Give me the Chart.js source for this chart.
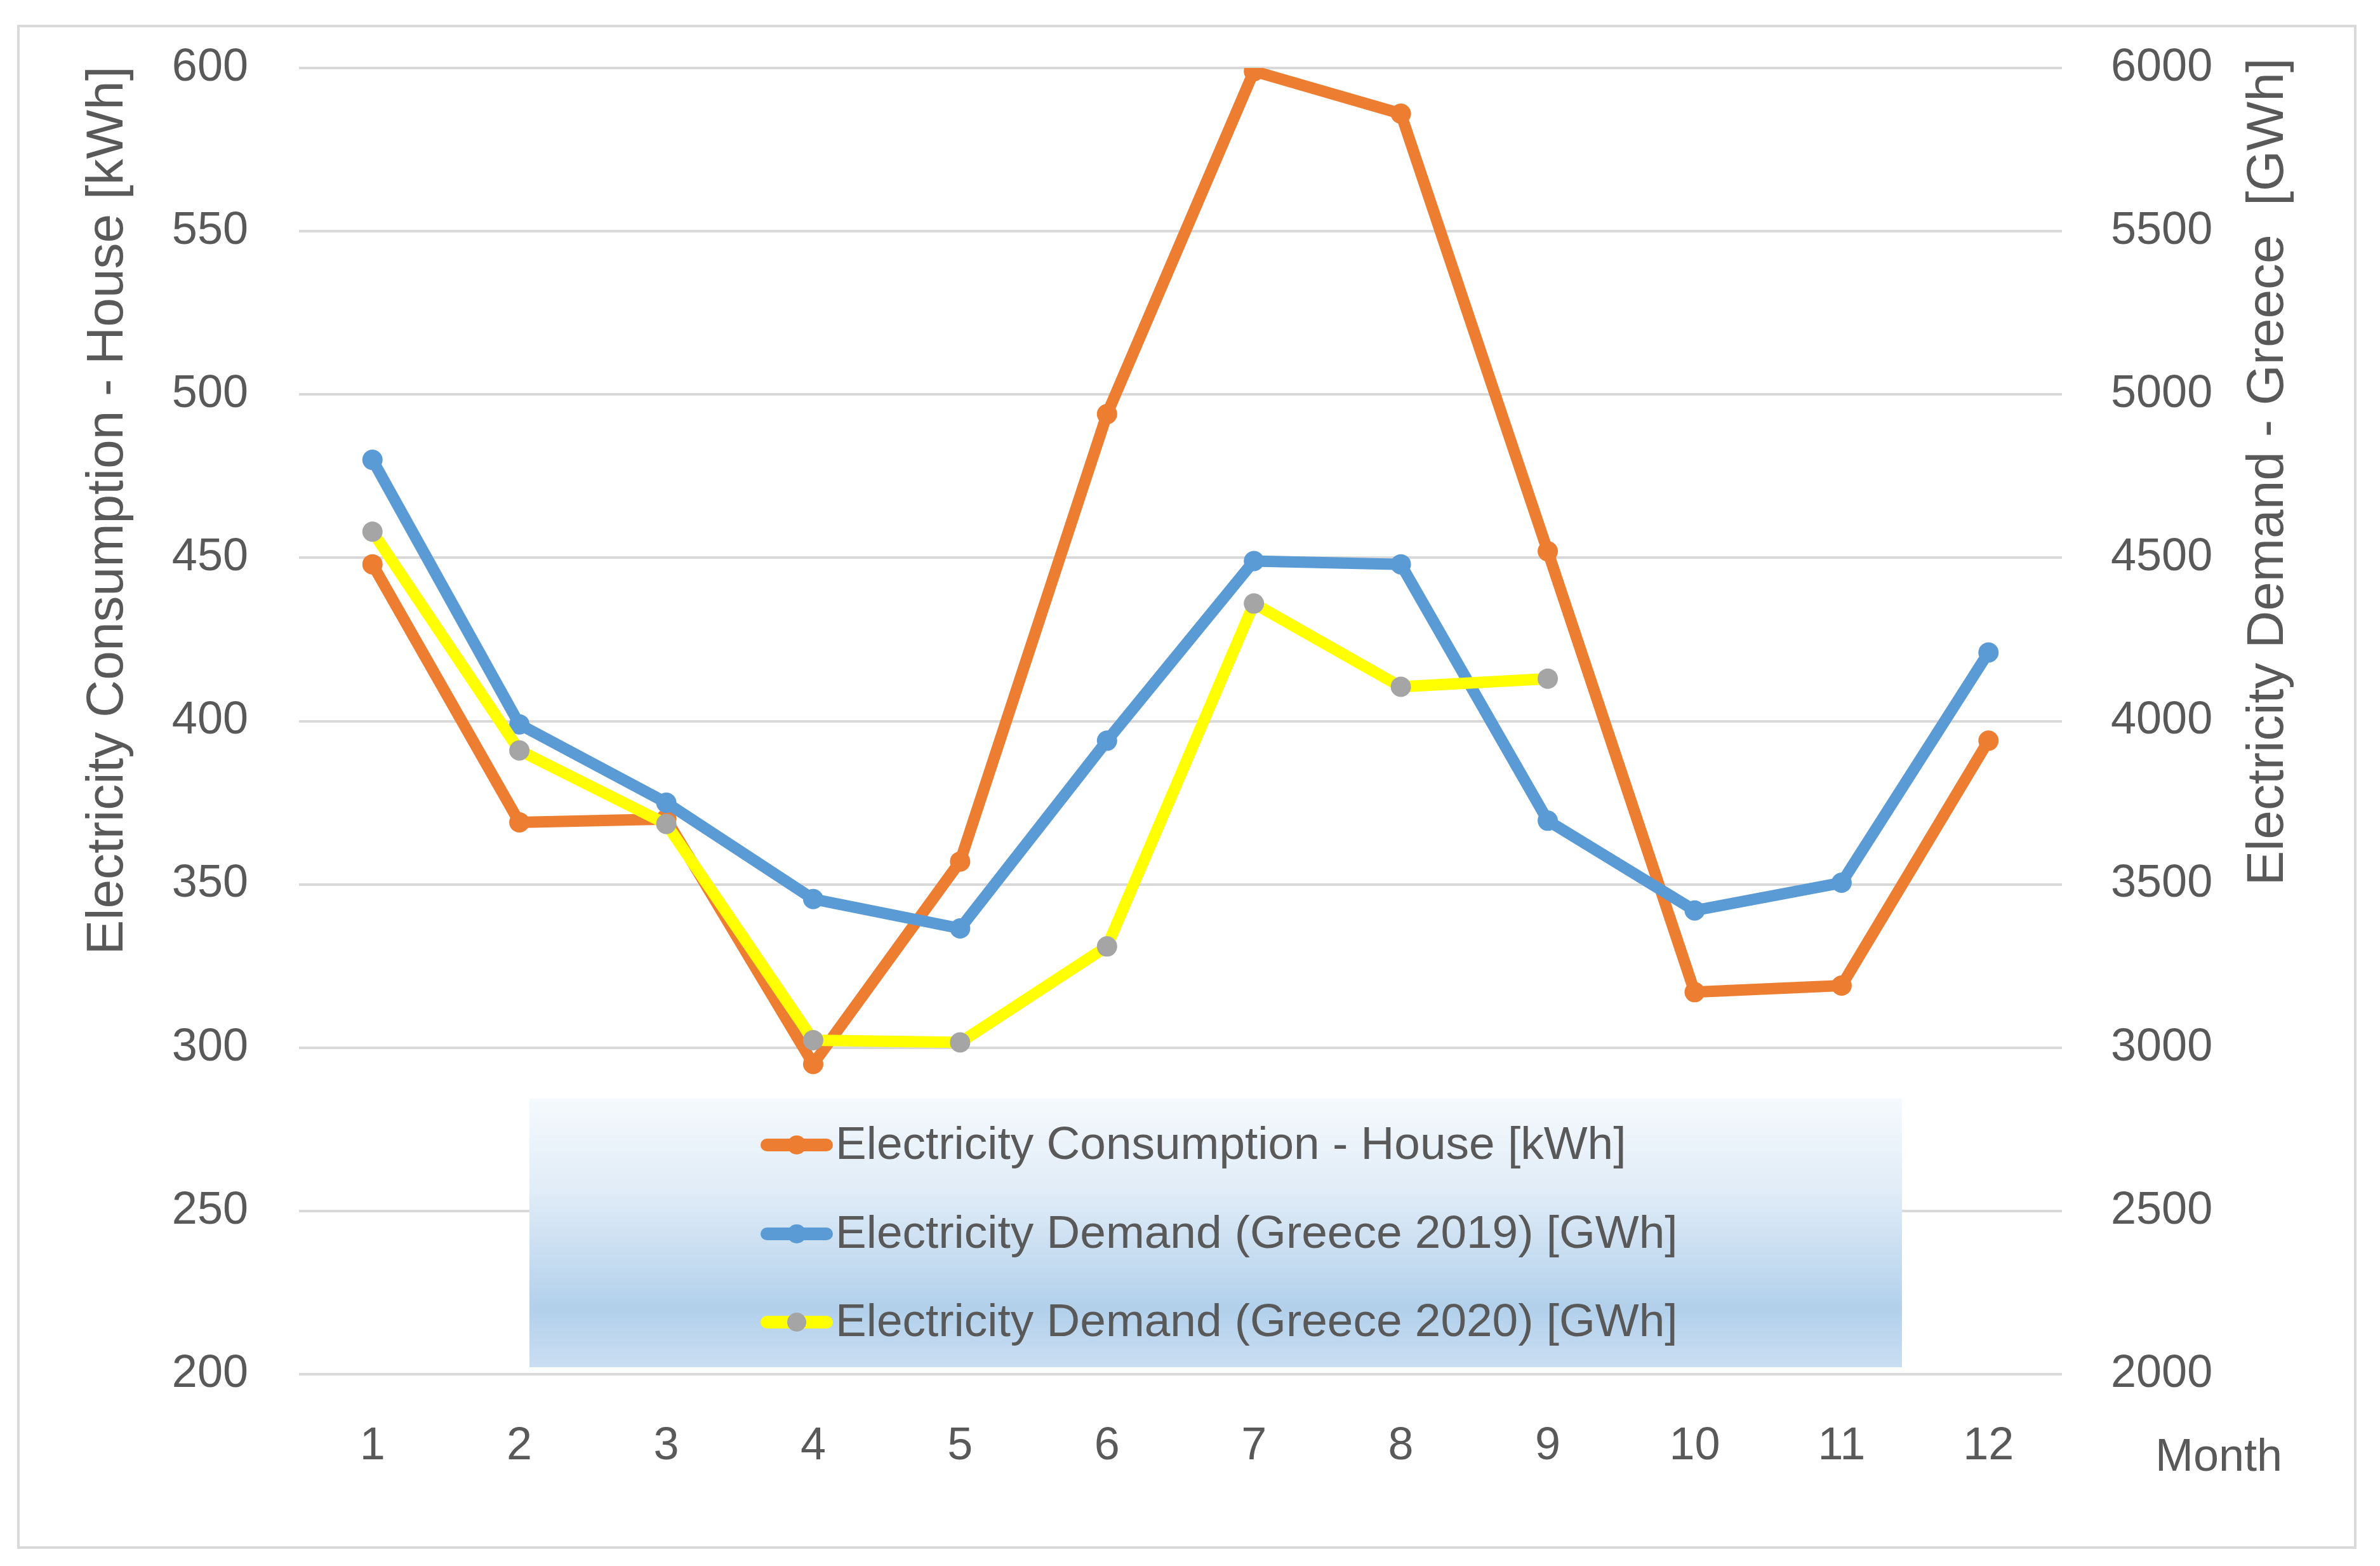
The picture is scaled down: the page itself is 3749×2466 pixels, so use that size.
<!DOCTYPE html>
<html>
<head>
<meta charset="utf-8">
<script src="https://cdn.jsdelivr.net/npm/chart.js@4.4.1/dist/chart.umd.min.js"></script>
<style>
  html, body { margin: 0; padding: 0; background: #ffffff; }
  #wrap { width: 3749px; height: 2466px; position: relative; }
</style>
</head>
<body>
<div id="wrap"><canvas id="c" width="3749" height="2466" style="width:3749px;height:2466px"></canvas></div>
<script>
// ---- data ----
const months = ['1', '2', '3', '4', '5', '6', '7', '8', '9', '10', '11', '12'];
const houseKWh = [448, 369, 370, 295, 357, 494, 599, 586, 452, 317, 319, 394];
const greece2019GWh = [4800, 3990, 3750, 3455, 3365, 3940, 4490, 4480, 3695, 3420, 3505, 4210];
const greece2020GWh = [4580, 3910, 3685, 3023, 3016, 3310, 4360, 4105, 4130, null, null, null];
const seriesNames = [
  'Electricity Consumption - House [kWh]',
  'Electricity Demand (Greece 2019) [GWh]',
  'Electricity Demand (Greece 2020) [GWh]'
];
const leftAxisTitle = 'Electricity Consumption - House [kWh]';
const rightAxisTitle = 'Electricity Demand - Greece  [GWh]';
const xAxisTitle = 'Month';
const leftRange = [200, 600, 50];
const rightRange = [2000, 6000, 500];

// ---- styles ----
const FONT = "'Liberation Sans', Arial, sans-serif";
const TEXT = '#595959';
const GRID = '#d9d9d9';

const decorPlugin = {
  id: 'decor',
  beforeDraw(chart) {
    const ctx = chart.ctx;
    ctx.save();
    ctx.fillStyle = '#ffffff';
    ctx.fillRect(0, 0, chart.width, chart.height);
    ctx.strokeStyle = GRID;
    ctx.lineWidth = 4;
    ctx.strokeRect(29, 41, 3710 - 29, 2437 - 41);
    ctx.restore();
  },
  afterDatasetsDraw(chart) {
    const ctx = chart.ctx;
    // axis titles
    ctx.save();
    ctx.fillStyle = TEXT;
    ctx.font = '82px ' + FONT;
    ctx.textAlign = 'center';
    ctx.textBaseline = 'middle';
    ctx.save();
    ctx.translate(170, 804);
    ctx.rotate(-Math.PI / 2);
    ctx.fillText(leftAxisTitle, 0, 0);
    ctx.restore();
    ctx.save();
    ctx.translate(3573, 743);
    ctx.rotate(-Math.PI / 2);
    ctx.fillText(rightAxisTitle, 0, 0);
    ctx.restore();
    // x title
    ctx.font = '72px ' + FONT;
    ctx.textAlign = 'left';
    ctx.textBaseline = 'alphabetic';
    ctx.fillText(xAxisTitle, 3395, 2316);
    ctx.restore();

    // legend box
    const bx = 834, by = 1730, bw = 2996 - 834, bh = 2153 - 1730;
    ctx.save();
    const g = ctx.createLinearGradient(0, by, 0, by + bh);
    g.addColorStop(0, '#f5f9fd');
    g.addColorStop(0.35, '#e0ecf7');
    g.addColorStop(0.78, '#b2d0eb');
    g.addColorStop(1, '#cadef2');
    ctx.fillStyle = g;
    ctx.fillRect(bx, by, bw, bh);
    const rows = [1803, 1943, 2082];
    chart.data.datasets.forEach((ds, i) => {
      const y = rows[i];
      ctx.strokeStyle = ds.borderColor;
      ctx.lineWidth = 20;
      ctx.lineCap = 'round';
      ctx.beginPath();
      ctx.moveTo(1208, y);
      ctx.lineTo(1302, y);
      ctx.stroke();
      ctx.fillStyle = ds.pointBackgroundColor;
      ctx.beginPath();
      ctx.arc(1255, y, 15, 0, Math.PI * 2);
      ctx.fill();
      ctx.fillStyle = TEXT;
      ctx.font = '73px ' + FONT;
      ctx.textAlign = 'left';
      ctx.textBaseline = 'middle';
      ctx.fillText(ds.label, 1316, y + 2);
    });
    ctx.restore();
  }
};

const lineStyle = (color, ptColor) => ({
  borderColor: color,
  backgroundColor: color,
  pointBackgroundColor: ptColor,
  pointBorderColor: ptColor,
  pointBorderWidth: 0,
  pointRadius: 16,
  pointHoverRadius: 16,
  borderWidth: 18,
  borderJoinStyle: 'round',
  borderCapStyle: 'round',
  tension: 0,
  fill: false
});

new Chart(document.getElementById('c'), {
  type: 'line',
  data: {
    labels: months,
    datasets: [
      Object.assign({ label: seriesNames[0], data: houseKWh, yAxisID: 'yL', order: 2 }, lineStyle('#ED7D31', '#ED7D31')),
      Object.assign({ label: seriesNames[1], data: greece2019GWh, yAxisID: 'yR', order: 1 }, lineStyle('#5B9BD5', '#5B9BD5')),
      Object.assign({ label: seriesNames[2], data: greece2020GWh, yAxisID: 'yR', order: 0 }, lineStyle('#FFFF00', '#A5A5A5'))
    ]
  },
  options: {
    responsive: false,
    animation: false,
    devicePixelRatio: 1,
    layout: { padding: { top: 107, left: 0, right: 0, bottom: 0 } },
    plugins: { legend: { display: false }, tooltip: { enabled: false }, title: { display: false } },
    scales: {
      x: {
        type: 'category',
        offset: true,
        grid: { display: false },
        border: { display: false },
        ticks: { color: TEXT, font: { family: FONT, size: 72 }, padding: 63, autoSkip: false, maxRotation: 0 },
        afterFit(s) { s.height = 302; }
      },
      yL: {
        position: 'left',
        min: leftRange[0], max: leftRange[1],
        grid: { color: GRID, lineWidth: 4, drawTicks: false },
        border: { display: false },
        ticks: { stepSize: leftRange[2], color: TEXT, font: { family: FONT, size: 72 }, padding: 80 },
        afterFit(s) { s.width = 471; s.paddingTop = 0; s.paddingBottom = 0; }
      },
      yR: {
        position: 'right',
        min: rightRange[0], max: rightRange[1],
        grid: { drawOnChartArea: false, drawTicks: false },
        border: { display: false },
        ticks: { stepSize: rightRange[2], color: TEXT, font: { family: FONT, size: 72 }, padding: 77, format: { useGrouping: false } },
        afterFit(s) { s.width = 501; s.paddingTop = 0; s.paddingBottom = 0; }
      }
    }
  },
  plugins: [decorPlugin]
});
</script>
</body>
</html>
